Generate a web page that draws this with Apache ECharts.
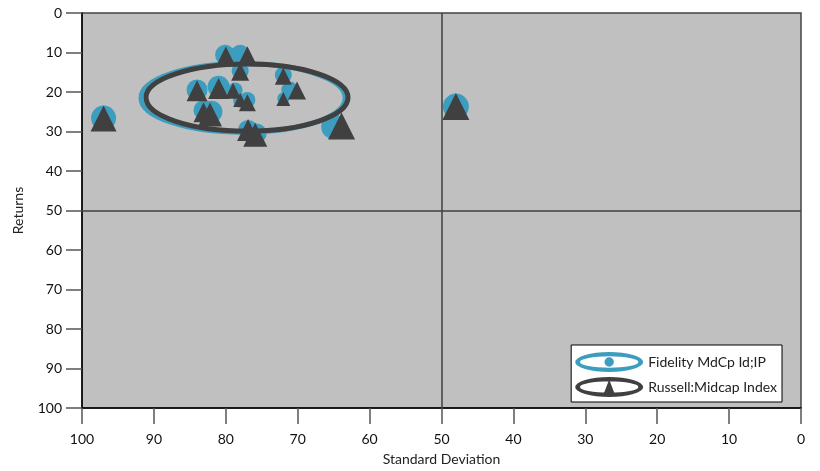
<!DOCTYPE html>
<html>
<head>
<meta charset="utf-8">
<script src="https://cdn.jsdelivr.net/npm/echarts@6/dist/echarts.min.js"></script>
<style>
html,body{margin:0;padding:0;background:#fff;}
#chart{width:820px;height:471px;}
</style>
</head>
<body>
<div id="chart"></div>
<script>
// ---- data ----
const fundName = 'Fidelity MdCp Id;IP';
const indexName = 'Russell:Midcap Index';

const fundX    = [97.0, 80.1, 78.0, 78.0, 72.0, 84.0, 81.0, 78.7, 71.1, 72.0, 78.0, 77.0, 83.1, 82.0, 76.9, 75.7, 65.0, 48.0];
const fundY    = [26.6, 10.6, 10.6, 14.7, 15.7, 19.5, 18.7, 19.5, 19.5, 21.6, 22.2, 22.0, 24.6, 25.0, 29.6, 30.5, 28.8, 23.7];
const fundSize = [25, 20, 20, 17, 17, 21, 22, 15, 17, 12, 14, 16, 20, 22, 20, 20, 25, 26];

const indexX    = [97.0, 80.0, 77.0, 78.0, 72.0, 84.0, 81.0, 79.0, 70.1, 72.0, 78.0, 77.0, 83.1, 82.2, 76.9, 75.9, 63.9, 48.0];
const indexY    = [26.7, 10.9, 10.8, 14.9, 16.0, 19.7, 19.1, 19.7, 19.6, 21.8, 22.0, 22.7, 25.1, 25.7, 29.6, 30.8, 28.6, 23.7];
const indexSize = [26, 19, 19, 18, 17, 21, 21, 16, 18, 14, 14, 17, 20, 24, 22, 24, 27, 27];

// ellipse: [centerX, centerY, radiusX, radiusY] in data units
const fundEllipse  = [77.6, 21.5, 14.2, 8.7];
const indexEllipse = [77.05, 21.4, 14.05, 8.5];

const xTicks = [0, 10, 20, 30, 40, 50, 60, 70, 80, 90, 100];
const yTicks = [0, 10, 20, 30, 40, 50, 60, 70, 80, 90, 100];
const refLine = 50;

// ---- styles ----
const blue = '#3d9dbf';
const dark = '#404040';
const font = 'Lato, "Open Sans", sans-serif';

function ellipseSeries(name, e, color, z) {
  return {
    name: name,
    type: 'custom',
    coordinateSystem: 'cartesian2d',
    silent: true,
    z: z,
    encode: { x: 0, y: 1 },
    data: [e],
    renderItem: function (params, api) {
      const c = api.coord([api.value(0), api.value(1)]);
      const s = api.size([api.value(2), api.value(3)]);
      return {
        type: 'ellipse',
        shape: { cx: c[0], cy: c[1], rx: Math.abs(s[0]), ry: Math.abs(s[1]) },
        style: { fill: 'none', stroke: color, lineWidth: 5 }
      };
    }
  };
}

const ringPath = 'M0,10 A34,10 0 1,1 68,10 A34,10 0 1,1 0,10 Z M4.8,10 A29.2,5.8 0 1,0 63.2,10 A29.2,5.8 0 1,0 4.8,10 Z ';
const fundIcon  = 'path://' + ringPath + 'M29.3,10 A4.7,4.7 0 1,1 38.7,10 A4.7,4.7 0 1,1 29.3,10 Z';
const indexIcon = 'path://' + ringPath + 'M34,2.5 L40.5,19.5 L27.5,19.5 Z';

const chart = echarts.init(document.getElementById('chart'), null, { renderer: 'canvas' });

chart.setOption({
  animation: false,
  backgroundColor: '#fff',
  textStyle: { fontFamily: font },
  grid: {
    left: 82, right: 19, top: 13, bottom: 63,
    show: true,
    backgroundColor: '#c0c0c0',
    borderColor: '#444',
    borderWidth: 1.5
  },
  legend: {
    orient: 'vertical',
    right: 38,
    bottom: 69,
    backgroundColor: '#fff',
    borderColor: '#000',
    borderWidth: 1,
    borderRadius: 0,
    padding: [7, 5, 5, 4],
    itemGap: 5,
    itemWidth: 68,
    itemHeight: 20,
    selectedMode: false,
    textStyle: { fontFamily: font, fontSize: 14, color: '#222' },
    data: [
      { name: fundName, icon: fundIcon, itemStyle: { color: blue } },
      { name: indexName, icon: indexIcon, itemStyle: { color: dark } }
    ]
  },
  xAxis: {
    type: 'value',
    inverse: true,
    min: xTicks[0],
    max: xTicks[xTicks.length - 1],
    interval: 10,
    name: 'Standard Deviation',
    nameLocation: 'middle',
    nameGap: 44,
    nameTextStyle: { fontFamily: font, fontSize: 14, color: '#222' },
    axisLine: { show: true, onZero: false, lineStyle: { color: '#000', width: 1.5 } },
    axisTick: { show: true, length: 16, lineStyle: { color: '#555', width: 1.5 } },
    axisLabel: { margin: 24, fontFamily: font, fontSize: 14, color: '#111' },
    splitLine: { show: false }
  },
  yAxis: {
    type: 'value',
    inverse: true,
    min: yTicks[0],
    max: yTicks[yTicks.length - 1],
    interval: 10,
    name: 'Returns',
    nameLocation: 'middle',
    nameGap: 57,
    nameRotate: 90,
    nameTextStyle: { fontFamily: font, fontSize: 14, color: '#222' },
    axisLine: { show: true, onZero: false, lineStyle: { color: '#000', width: 1.5 } },
    axisTick: { show: true, length: 16, lineStyle: { color: '#555', width: 1.5 } },
    axisLabel: { margin: 20, fontFamily: font, fontSize: 14, color: '#111' },
    splitLine: { show: false }
  },
  series: [
    ellipseSeries(fundName, fundEllipse, blue, 2),
    {
      name: fundName,
      type: 'scatter',
      z: 3,
      symbol: 'circle',
      itemStyle: { color: blue, opacity: 1 },
      data: fundX.map((x, i) => ({ value: [x, fundY[i]], symbolSize: fundSize[i] })),
      markLine: {
        silent: true,
        symbol: 'none',
        label: { show: false },
        lineStyle: { color: dark, width: 1.5, type: 'solid' },
        data: [{ xAxis: refLine }, { yAxis: refLine }]
      }
    },
    ellipseSeries(indexName, indexEllipse, dark, 4),
    {
      name: indexName,
      type: 'scatter',
      z: 5,
      symbol: 'triangle',
      itemStyle: { color: dark, opacity: 1 },
      data: indexX.map((x, i) => ({ value: [x, indexY[i]], symbolSize: indexSize[i] }))
    }
  ]
});
</script>
</body>
</html>
